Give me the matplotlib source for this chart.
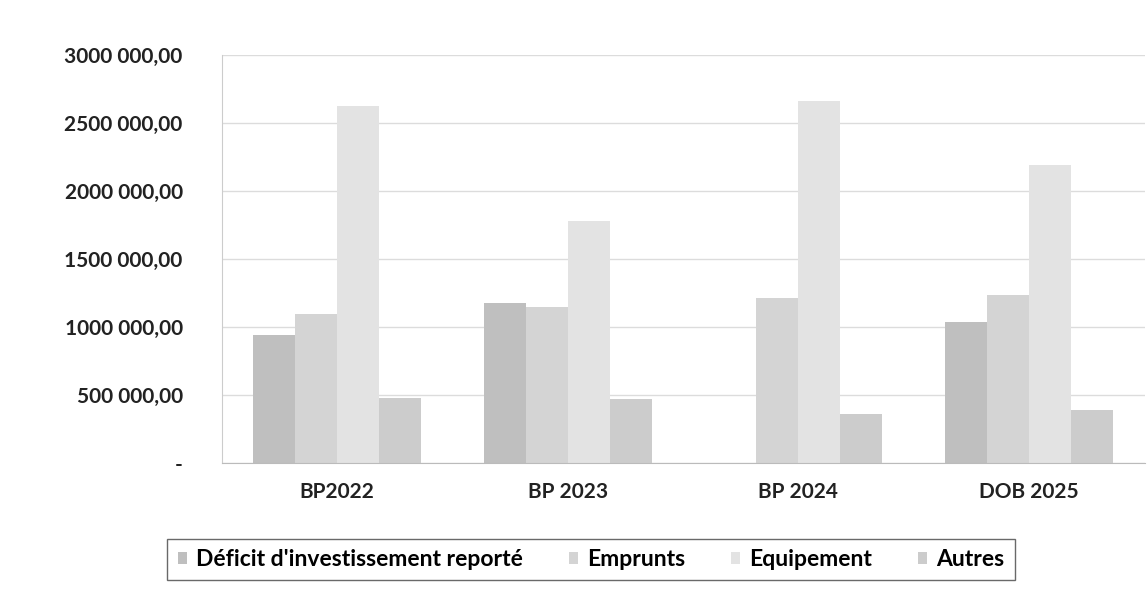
import matplotlib.pyplot as plt
import numpy as np

plt.rcParams['font.family'] = ['Lato', 'DejaVu Sans']

categories = ['BP2022', 'BP 2023', 'BP 2024', 'DOB 2025']
series_names = ["Déficit d'investissement reporté", 'Emprunts', 'Equipement', 'Autres']
deficit = [940000, 1175000, 0, 1040000]
emprunts = [1095000, 1146000, 1210000, 1235000]
equipement = [2625000, 1780000, 2660000, 2190000]
autres = [475000, 467000, 357000, 387000]
y_ticks = [0, 500000, 1000000, 1500000, 2000000, 2500000, 3000000]
y_tick_labels = ['-', '500 000,00', '1000 000,00', '1500 000,00',
                 '2000 000,00', '2500 000,00', '3000 000,00']

colors = ['#bfbfbf', '#d4d4d4', '#e3e3e3', '#cccccc']
values = [deficit, emprunts, equipement, autres]

fig = plt.figure(figsize=(11.48, 5.92), dpi=100)
ax = fig.add_axes([0.193, 0.218, 0.804, 0.689])

x = np.arange(len(categories))
width = 0.182
for i, (name, vals) in enumerate(zip(series_names, values)):
    offset = (i - 1.5) * width
    ax.bar(x + offset, vals, width, color=colors[i], label=name, zorder=2)

ax.set_ylim(0, 3000000)
ax.set_xlim(-0.5, len(categories) - 0.5)
ax.set_yticks(y_ticks)
ax.set_yticklabels(y_tick_labels, fontsize=15, fontweight='bold', color='#222222')
ax.set_xticks(x)
ax.set_xticklabels(categories, fontsize=15, fontweight='bold', color='#222222')
ax.tick_params(axis='x', length=0, pad=14)
ax.tick_params(axis='y', length=0, pad=28)

ax.grid(axis='y', color='#dcdcdc', linewidth=1.0, zorder=0)
for side in ['top', 'right']:
    ax.spines[side].set_visible(False)
ax.spines['left'].set_color('#cccccc')
ax.spines['bottom'].set_color('#bbbbbb')

leg = fig.legend(loc='center', bbox_to_anchor=(0.515, 0.055), ncol=4,
                 frameon=True, fancybox=False, edgecolor='#444444',
                 prop={'size': 16.5, 'weight': 'bold'},
                 handlelength=0.4, handleheight=0.45, columnspacing=2.0,
                 handletextpad=0.4, borderpad=0.45)
leg.get_frame().set_linewidth(1.0)

fig.savefig('out.png', dpi=100)
